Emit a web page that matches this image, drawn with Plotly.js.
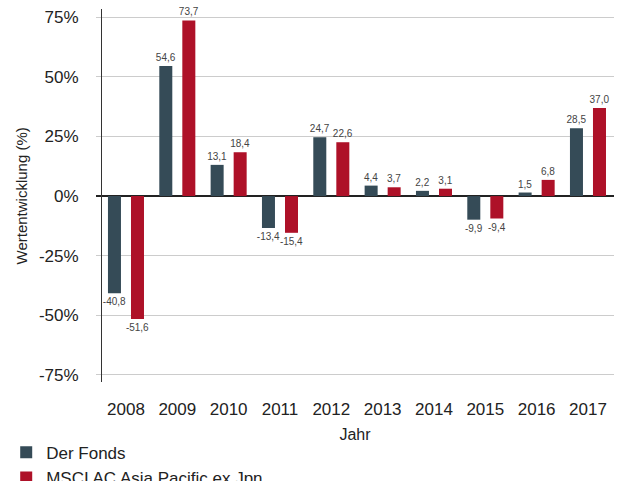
<!DOCTYPE html>
<html><head><meta charset="utf-8">
<script src="https://cdn.plot.ly/plotly-3.0.1.min.js"></script>
<style>html,body{margin:0;padding:0;background:#fff}#chart{width:621px;height:481px}</style>
</head><body><div id="chart"></div>
<script>
var years = ['2008','2009','2010','2011','2012','2013','2014','2015','2016','2017'];
var fonds = [-40.8, 54.6, 13.1, -13.4, 24.7, 4.4, 2.2, -9.9, 1.5, 28.5];
var msci = [-51.6, 73.7, 18.4, -15.4, 22.6, 3.7, 3.1, -9.4, 6.8, 37.0];
var yTicks = [-75, -50, -25, 0, 25, 50, 75];
var yTickText = ['-75%', '-50%', '-25%', '0%', '25%', '50%', '75%'];
var yTitle = 'Wertentwicklung (%)';
var xTitle = 'Jahr';

var font = 'Liberation Sans, Arial, Helvetica, sans-serif';
var traces = [
  {type:'bar', name:'Der Fonds', x:years, y:fonds, marker:{color:'#354b57'},
   texttemplate:'%{y:.1f}', textposition:'outside', cliponaxis:false, constraintext:'none',
   textfont:{size:10, color:'#444', family:font}, hoverinfo:'none'},
  {type:'bar', name:'MSCI AC Asia Pacific ex Jpn', x:years, y:msci, marker:{color:'#ae1128'},
   texttemplate:'%{y:.1f}', textposition:'outside', cliponaxis:false, constraintext:'none',
   textfont:{size:10, color:'#444', family:font}, hoverinfo:'none'}
];
var layout = {
  width:621, height:481,
  margin:{l:96, r:7, t:9, b:99, autoexpand:false},
  paper_bgcolor:'#fff', plot_bgcolor:'#fff',
  font:{family:font, color:'#222', size:15},
  separators:',.',
  barmode:'group', bargap:0.103, bargroupgap:0.435,
  showlegend:true,
  legend:{xref:'container', yref:'container', x:0.01, y:0.096, xanchor:'left', yanchor:'top',
          font:{size:17, color:'#222'}, tracegroupgap:0},
  xaxis:{type:'category', range:[-0.584, 9.507], showgrid:false, zeroline:false, showline:false,
         automargin:false, tickangle:0,
         ticks:'', ticklabelstandoff:15, tickfont:{size:17, color:'#222'},
         title:{text:xTitle, font:{size:16, color:'#222'}}},
  yaxis:{range:[-78, 78.5], tickvals:yTicks, ticktext:yTickText, showgrid:true, gridcolor:'#cccccc', gridwidth:1,
         zeroline:true, zerolinecolor:'#222', zerolinewidth:2, automargin:false,
         anchor:'free', position:0.00965,
         showline:true, linecolor:'#333', linewidth:1.2,
         ticks:'outside', ticklen:19, tickcolor:'rgba(0,0,0,0)',
         tickfont:{size:17, color:'#222'}},
  annotations:[{text:yTitle, xref:'paper', yref:'paper', x:-0.1429, y:0.5, textangle:-90,
                showarrow:false, xanchor:'center', yanchor:'middle', font:{size:15, color:'#222'}}]
};
Plotly.newPlot('chart', traces, layout, {displayModeBar:false, staticPlot:true});
</script></body></html>
